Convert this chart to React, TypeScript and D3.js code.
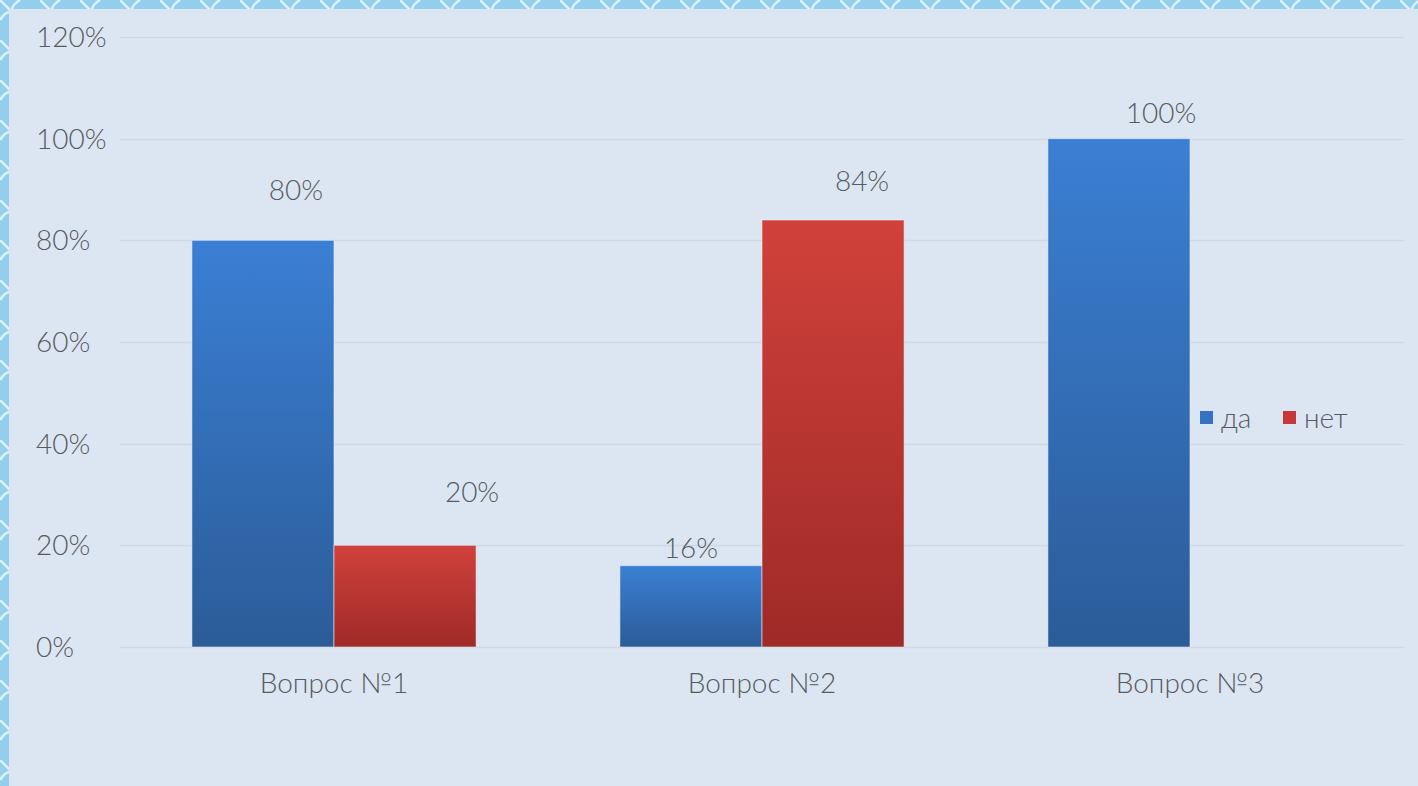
import React, { useRef, useEffect } from 'react';
import * as d3 from 'd3';

const categories = ['Вопрос №1', 'Вопрос №2', 'Вопрос №3'];
const seriesNames = ['да', 'нет'];
const daValues = [0.8, 0.16, 1.0];
const netValues = [0.2, 0.84, 0];
const yTicks = [0, 0.2, 0.4, 0.6, 0.8, 1.0, 1.2];
// manual data label nudges (dx, dy from bar top centre), as in the source slide
const labelNudge = [
  [[33, -50], [67, -53]],
  [[0, -18], [29, -39]],
  [[42, -26], [0, 0]],
];

const W = 1418;
const H = 786;
const FONT = 'Lato, "Open Sans", sans-serif';
const TEXT = '#575b61';

const BarChart = () => {
  const svgRef = useRef<SVGSVGElement>(null);

  useEffect(() => {
    const svg = d3.select(svgRef.current);
    svg.selectAll('*').remove();

    const margin = { top: 37, right: 14, bottom: 139, left: 120 };
    const innerW = W - margin.left - margin.right;
    const innerH = H - margin.top - margin.bottom;

    const defs = svg.append('defs');
    const pat = defs.append('pattern')
      .attr('id', 'frost')
      .attr('patternUnits', 'userSpaceOnUse')
      .attr('width', 40)
      .attr('height', 40);
    pat.append('rect').attr('width', 40).attr('height', 40).attr('fill', '#93cfed');
    pat.append('path')
      .attr('d', 'M0 20 Q10 4 20 20 T40 20 M20 0 Q4 10 20 20 T20 40 M0 0 L40 40')
      .attr('stroke', '#e8f7fe').attr('stroke-width', 2.5).attr('fill', 'none').attr('opacity', 0.85);

    const grads = [
      { id: 'gDa', top: '#3b7fd4', bottom: '#2b5c98' },
      { id: 'gNet', top: '#d1413b', bottom: '#9f2a27' },
    ];
    grads.forEach(g => {
      const lg = defs.append('linearGradient')
        .attr('id', g.id).attr('x1', 0).attr('y1', 0).attr('x2', 0).attr('y2', 1);
      lg.append('stop').attr('offset', '0%').attr('stop-color', g.top);
      lg.append('stop').attr('offset', '100%').attr('stop-color', g.bottom);
    });

    svg.append('rect').attr('width', W).attr('height', H).attr('fill', 'url(#frost)');
    svg.append('rect').attr('x', 9).attr('y', 9).attr('width', W - 9).attr('height', H - 9).attr('fill', '#dce6f2');

    const g = svg.append('g').attr('transform', `translate(${margin.left},${margin.top})`);

    const x0 = d3.scaleBand()
      .domain(categories)
      .range([0, innerW])
      .paddingInner(0.336)
      .paddingOuter(0.168);

    const x1 = d3.scaleBand()
      .domain(seriesNames)
      .range([0, x0.bandwidth()]);

    const y = d3.scaleLinear().domain([0, 1.2]).range([innerH, 0]);

    const color = d3.scaleOrdinal<string>().domain(seriesNames).range(['url(#gDa)', 'url(#gNet)']);
    const legendColor = d3.scaleOrdinal<string>().domain(seriesNames).range(['#3572c2', '#c6383a']);

    // gridlines
    g.append('g')
      .selectAll('line')
      .data(yTicks)
      .enter()
      .append('line')
      .attr('x1', 0)
      .attr('x2', innerW)
      .attr('y1', d => Math.round(y(d)) + 0.5)
      .attr('y2', d => Math.round(y(d)) + 0.5)
      .attr('stroke', '#cfd8e3')
      .attr('stroke-width', 1.5);

    const label = (sel: any) => sel
      .attr('font-family', FONT)
      .attr('font-size', 28)
      .attr('font-weight', 300)
      .attr('fill', TEXT);

    // y tick labels (left aligned)
    g.append('g')
      .selectAll('text')
      .data(yTicks)
      .enter()
      .append('text')
      .attr('x', 36 - margin.left)
      .attr('y', d => y(d))
      .attr('dy', '0.36em')
      .call(label)
      .text(d => d3.format('.0%')(d));

    const rows = categories.map((c, i) => ({ cat: c, i, vals: [daValues[i], netValues[i]] }));

    const groups = g.append('g')
      .selectAll('g')
      .data(rows)
      .enter()
      .append('g')
      .attr('transform', d => `translate(${x0(d.cat)},0)`);

    groups.selectAll('rect')
      .data(d => d.vals.map((v, s) => ({ v, s: seriesNames[s] })).filter(e => e.v > 0))
      .enter()
      .append('rect')
      .attr('x', d => x1(d.s)!)
      .attr('y', d => y(d.v))
      .attr('width', x1.bandwidth())
      .attr('height', d => innerH - y(d.v))
      .attr('fill', d => color(d.s))
      .attr('stroke', 'rgba(235,245,255,0.55)')
      .attr('stroke-width', 1);

    groups.selectAll('text')
      .data(d => d.vals.map((v, s) => ({ v, s: seriesNames[s], si: s, ci: d.i })).filter(e => e.v > 0))
      .enter()
      .append('text')
      .attr('x', d => x1(d.s)! + x1.bandwidth() / 2 + labelNudge[d.ci][d.si][0])
      .attr('y', d => y(d.v) + labelNudge[d.ci][d.si][1])
      .attr('dy', '0.36em')
      .attr('text-anchor', 'middle')
      .call(label)
      .text(d => d3.format('.0%')(d.v));

    // category labels
    g.append('g')
      .selectAll('text')
      .data(categories)
      .enter()
      .append('text')
      .attr('x', d => x0(d)! + x0.bandwidth() / 2)
      .attr('y', innerH + 36)
      .attr('dy', '0.36em')
      .attr('text-anchor', 'middle')
      .call(label)
      .text(d => d);

    // legend
    const legend = svg.append('g').attr('transform', 'translate(1200,418)');
    const legendX = d3.scalePoint().domain(seriesNames).range([0, 83]);
    const items = legend.selectAll('g')
      .data(seriesNames)
      .enter()
      .append('g')
      .attr('transform', d => `translate(${legendX(d)},0)`);
    items.append('rect')
      .attr('x', 0).attr('y', -7).attr('width', 13).attr('height', 13)
      .attr('fill', d => legendColor(d));
    items.append('text')
      .attr('x', 21).attr('y', 0).attr('dy', '0.36em')
      .call(label)
      .text(d => d);
  }, []);

  return <svg ref={svgRef} width={W} height={H} style={{ position: 'absolute', left: 0, top: 0, display: 'block' }}></svg>;
};

export default function App() {
  return <BarChart />;
}
